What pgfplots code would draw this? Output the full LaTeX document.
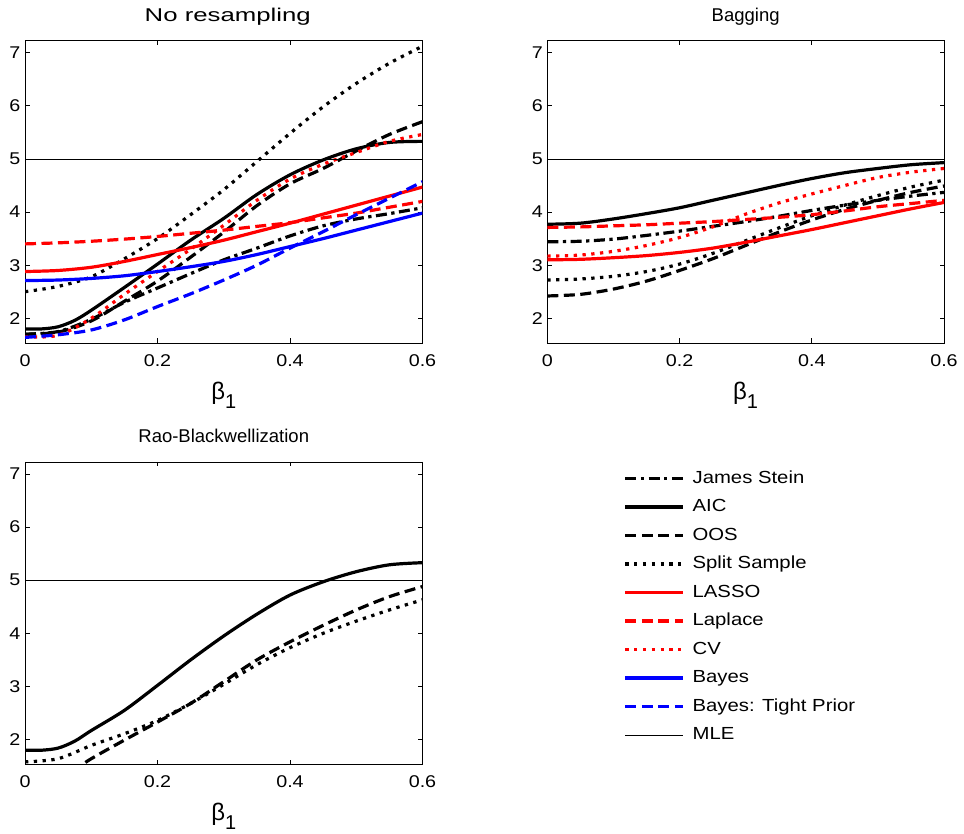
\documentclass[border=0pt]{standalone}
\usepackage{fontspec}
\setmainfont{Liberation Sans}
\newfontfamily\mfont[FakeStretch=1.16]{Liberation Sans}
\usepackage{graphicx}
\usepackage{pgfplots}
\pgfplotsset{compat=1.18}
\definecolor{mred}{RGB}{255,0,0}
\definecolor{mblue}{RGB}{0,0,255}
\pgfplotsset{
  js/.style={black, line width=3.2pt, dash pattern=on 11pt off 4.5pt on 3.3pt off 4.5pt},
  aic/.style={black, line width=3.2pt},
  oos/.style={black, line width=3.2pt, dash pattern=on 11pt off 5.5pt},
  split/.style={black, line width=3.2pt, dash pattern=on 3.3pt off 5.5pt},
  lasso/.style={mred, line width=3.2pt},
  laplace/.style={mred, line width=3.2pt, dash pattern=on 11pt off 5.5pt},
  cv/.style={mred, line width=3.2pt, dash pattern=on 3.3pt off 5.5pt},
  bayes/.style={mblue, line width=3.2pt},
  tight/.style={mblue, line width=3.2pt, dash pattern=on 11pt off 5.5pt},
  mle/.style={black, line width=0.75pt},
  panel/.style={scale only axis, width=397.5pt, height=302.3pt,
    xmin=0, xmax=0.6, ymin=1.535, ymax=7.225,
    xtick={0,0.2,0.4,0.6}, ytick={2,3,4,5,6,7},
    tick align=inside, major tick length=4.5pt,
    axis line style={line width=0.8pt},
    every tick/.style={black, line width=0.7pt},
    /pgf/number format/assume math mode=true,
    /pgf/number format/fixed,
    tick label style={font=\mfont\fontsize{17}{19}\selectfont},
    xticklabel style={anchor=base, yshift=-23.7pt},
    yticklabel style={xshift=-1pt},
    title style={at={(0.5,1)}, anchor=base, yshift=13pt, font=\fontsize{18.5}{22}\selectfont},
    xlabel={{\fontsize{24}{26}\selectfont β}\raisebox{-8.7pt}{\fontsize{20}{22}\selectfont 1}},
    xlabel style={at={(axis description cs:0.5,0)}, anchor=base, yshift=-56.6pt},
    every axis plot/.append style={smooth, tension=0.5},
  }
}
\begin{document}
\begin{tikzpicture}
\useasboundingbox (0,0) rectangle (964pt,834pt);

% Panel 1: No resampling
\begin{axis}[panel, at={(25pt,491pt)}, anchor=south west, title={\scalebox{1.2}[1]{No resampling}}, title style={xshift=4pt, font=\mfont\fontsize{18.5}{22}\selectfont}]
\addplot[js] coordinates {(0,1.70) (0.05,1.75) (0.1,1.98) (0.15,2.30) (0.2,2.57) (0.25,2.84) (0.3,3.10) (0.35,3.32) (0.4,3.55) (0.45,3.74) (0.5,3.87) (0.55,3.97) (0.6,4.08)};
\addplot[aic] coordinates {(0,1.80) (0.025,1.80) (0.05,1.84) (0.075,1.96) (0.1,2.15) (0.15,2.58) (0.2,3.02) (0.25,3.47) (0.3,3.88) (0.35,4.33) (0.4,4.70) (0.45,4.98) (0.5,5.19) (0.55,5.31) (0.6,5.33)};
\addplot[oos] coordinates {(0,1.70) (0.05,1.74) (0.1,1.95) (0.15,2.32) (0.2,2.70) (0.25,3.15) (0.3,3.62) (0.35,4.12) (0.4,4.53) (0.45,4.82) (0.5,5.15) (0.55,5.46) (0.6,5.70)};
\addplot[split] coordinates {(0,2.50) (0.05,2.60) (0.1,2.78) (0.15,3.12) (0.2,3.50) (0.25,3.95) (0.3,4.42) (0.35,4.95) (0.4,5.48) (0.45,5.98) (0.5,6.42) (0.55,6.80) (0.6,7.12)};
\addplot[lasso] coordinates {(0,2.88) (0.05,2.90) (0.1,2.96) (0.15,3.07) (0.2,3.20) (0.25,3.33) (0.3,3.47) (0.35,3.63) (0.4,3.79) (0.45,3.96) (0.5,4.13) (0.55,4.30) (0.6,4.47)};
\addplot[laplace] coordinates {(0,3.40) (0.05,3.42) (0.1,3.45) (0.15,3.49) (0.2,3.54) (0.25,3.60) (0.3,3.66) (0.35,3.73) (0.4,3.80) (0.45,3.89) (0.5,3.98) (0.55,4.09) (0.6,4.20)};
\addplot[cv] coordinates {(0,1.65) (0.05,1.68) (0.1,2.00) (0.15,2.45) (0.2,2.88) (0.25,3.30) (0.3,3.75) (0.35,4.22) (0.4,4.62) (0.45,4.90) (0.5,5.12) (0.55,5.33) (0.6,5.46)};
\addplot[bayes] coordinates {(0,2.71) (0.05,2.72) (0.1,2.75) (0.15,2.80) (0.2,2.88) (0.25,2.97) (0.3,3.07) (0.35,3.20) (0.4,3.35) (0.45,3.50) (0.5,3.66) (0.55,3.82) (0.6,3.98)};
\addplot[tight] coordinates {(0,1.64) (0.05,1.69) (0.1,1.78) (0.15,1.97) (0.2,2.22) (0.25,2.46) (0.3,2.72) (0.35,3.00) (0.4,3.32) (0.45,3.63) (0.5,3.95) (0.55,4.26) (0.6,4.57)};
\addplot[mle, sharp plot] coordinates {(0,5) (0.6,5)};
\end{axis}

% Panel 2: Bagging
\begin{axis}[panel, at={(547.3pt,491pt)}, anchor=south west, width=396.7pt, title={Bagging}]
\addplot[js] coordinates {(0,3.44) (0.05,3.45) (0.1,3.49) (0.15,3.56) (0.2,3.64) (0.25,3.73) (0.3,3.82) (0.35,3.92) (0.4,4.03) (0.45,4.13) (0.5,4.22) (0.55,4.30) (0.6,4.37)};
\addplot[aic] coordinates {(0,3.77) (0.05,3.79) (0.1,3.87) (0.15,3.97) (0.2,4.08) (0.25,4.22) (0.3,4.36) (0.35,4.50) (0.4,4.63) (0.45,4.74) (0.5,4.82) (0.55,4.89) (0.6,4.93)};
\addplot[oos] coordinates {(0,2.42) (0.05,2.45) (0.1,2.55) (0.15,2.70) (0.2,2.90) (0.25,3.12) (0.3,3.37) (0.35,3.62) (0.4,3.85) (0.45,4.05) (0.5,4.22) (0.55,4.37) (0.6,4.49)};
\addplot[split] coordinates {(0,2.72) (0.05,2.74) (0.1,2.79) (0.15,2.88) (0.2,3.02) (0.25,3.22) (0.3,3.46) (0.35,3.70) (0.4,3.93) (0.45,4.13) (0.5,4.31) (0.55,4.47) (0.6,4.60)};
\addplot[lasso] coordinates {(0,3.10) (0.05,3.11) (0.1,3.14) (0.15,3.18) (0.2,3.24) (0.25,3.32) (0.3,3.43) (0.35,3.55) (0.4,3.67) (0.45,3.80) (0.5,3.93) (0.55,4.06) (0.6,4.18)};
\addplot[laplace] coordinates {(0,3.71) (0.05,3.72) (0.1,3.74) (0.15,3.76) (0.2,3.79) (0.25,3.82) (0.3,3.86) (0.35,3.90) (0.4,3.95) (0.45,4.02) (0.5,4.10) (0.55,4.16) (0.6,4.22)};
\addplot[cv] coordinates {(0,3.17) (0.05,3.19) (0.1,3.26) (0.15,3.37) (0.2,3.52) (0.25,3.72) (0.3,3.96) (0.35,4.17) (0.4,4.34) (0.45,4.50) (0.5,4.65) (0.55,4.75) (0.6,4.82)};
\addplot[mle, sharp plot] coordinates {(0,5) (0.6,5)};
\end{axis}

% Panel 3: Rao-Blackwellization
\begin{axis}[panel, at={(25pt,69.7pt)}, anchor=south west, title={Rao-Blackwellization}]
\addplot[aic] coordinates {(0,1.80) (0.025,1.80) (0.05,1.84) (0.075,1.97) (0.1,2.17) (0.15,2.55) (0.2,3.02) (0.25,3.50) (0.3,3.95) (0.35,4.36) (0.4,4.72) (0.45,4.97) (0.5,5.16) (0.55,5.29) (0.6,5.33)};
\addplot[oos] coordinates {(0.05,1.22) (0.075,1.43) (0.1,1.64) (0.15,1.99) (0.2,2.33) (0.25,2.68) (0.3,3.09) (0.35,3.50) (0.4,3.84) (0.45,4.15) (0.5,4.44) (0.55,4.69) (0.6,4.88)};
\addplot[split] coordinates {(0,1.58) (0.05,1.64) (0.1,1.89) (0.15,2.11) (0.2,2.36) (0.25,2.68) (0.3,3.04) (0.35,3.41) (0.4,3.73) (0.45,4.00) (0.5,4.23) (0.55,4.44) (0.6,4.63)};
\addplot[mle, sharp plot] coordinates {(0,5) (0.6,5)};
\end{axis}

% Legend
\begin{axis}[at={(0pt,0pt)}, anchor=south west, scale only axis, width=964pt, height=834pt,
  xmin=0, xmax=964, ymin=0, ymax=834, hide axis,
  legend cell align=left,
  legend image code/.code={\draw[#1] (0pt,0pt) -- (57.7pt,0pt); \path (63.7pt,0pt);},
  legend style={at={(0.6468,0.4386)}, anchor=north west, draw=none, fill=none,
    font=\mfont\fontsize{17.5}{20}\selectfont, row sep=8.2pt, inner sep=0pt,
    nodes={inner sep=2pt, text height=12.6pt, text depth=3.7pt}}]
\addlegendimage{js}\addlegendentry{James Stein}
\addlegendimage{aic}\addlegendentry{AIC}
\addlegendimage{oos}\addlegendentry{OOS}
\addlegendimage{split}\addlegendentry{Split Sample}
\addlegendimage{lasso}\addlegendentry{LASSO}
\addlegendimage{laplace}\addlegendentry{Laplace}
\addlegendimage{cv}\addlegendentry{CV}
\addlegendimage{bayes}\addlegendentry{Bayes}
\addlegendimage{tight}\addlegendentry{Bayes: Tight Prior}
\addlegendimage{mle}\addlegendentry{MLE}
\end{axis}
\end{tikzpicture}
\end{document}
